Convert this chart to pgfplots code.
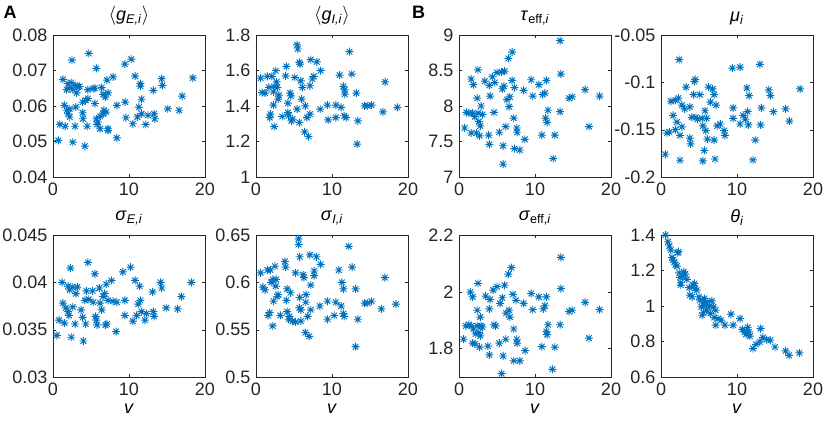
\documentclass[border=0pt,12pt]{standalone}
\usepackage{fontspec}
\setmainfont{Liberation Sans}
\usepackage{pgfplots}
\pgfplotsset{compat=1.18}

\definecolor{mblue}{RGB}{0,114,189}
\definecolor{axgray}{gray}{0.15}
\newcommand\mfont{\fontsize{13.5}{16}\selectfont}

% MATLAB-like asterisk: + and x on top of each other
\pgfdeclareplotmark{mstar}{%
  \pgfpathmoveto{\pgfqpoint{-\pgfplotmarksize}{0pt}}%
  \pgfpathlineto{\pgfqpoint{\pgfplotmarksize}{0pt}}%
  \pgfpathmoveto{\pgfqpoint{0pt}{-\pgfplotmarksize}}%
  \pgfpathlineto{\pgfqpoint{0pt}{\pgfplotmarksize}}%
  \pgfpathmoveto{\pgfqpoint{-0.707\pgfplotmarksize}{-0.707\pgfplotmarksize}}%
  \pgfpathlineto{\pgfqpoint{0.707\pgfplotmarksize}{0.707\pgfplotmarksize}}%
  \pgfpathmoveto{\pgfqpoint{-0.707\pgfplotmarksize}{0.707\pgfplotmarksize}}%
  \pgfpathlineto{\pgfqpoint{0.707\pgfplotmarksize}{-0.707\pgfplotmarksize}}%
  \pgfusepathqstroke}

\pgfplotsset{
  panel/.style={
    scale only axis, width=114pt, height=106.5pt, anchor=south west,
    xmin=0, xmax=20, xtick={0,10,20},
    tick align=inside, major tick length=2.5pt,
    axis line style={axgray}, tick style={axgray},
    every tick label/.append style={text=axgray, font=\mfont},
    scaled y ticks=false,
    yticklabel style={/pgf/number format/fixed, /pgf/number format/precision=3},
    /pgf/number format/assume math mode=true,
    title style={yshift=-3pt, text=black, font=\mfont},
    xlabel style={font=\mfont, yshift=2pt},
  },
  pts/.style={only marks, mark=mstar, mark size=3pt, color=mblue, line width=0.7pt},
}

\begin{document}
\begin{tikzpicture}[font=\mfont]
\path[use as bounding box] (0,0) rectangle (623.25pt,316.5pt);

\node[font=\mfont\bfseries] at (7.5pt,307.5pt) {A};
\node[font=\mfont\bfseries] at (314pt,307.5pt) {B};

% --- top row ---
\begin{axis}[panel, at={(39.75pt,183.75pt)},
  ymin=0.04, ymax=0.08, ytick={0.04,0.05,...,0.08},
  title={$\langle$\textit{g}\textsubscript{\textit{E,i}}$\rangle$}]
\addplot[pts] coordinates {
(0.7,0.0503) (0.9,0.0548) (1.6,0.0543) (1.3,0.0675) (1.5,0.0602) (1.8,0.0588)
(2.0,0.0578) (2.2,0.0569) (2.4,0.0666) (2.5,0.0729) (2.6,0.0646) (2.9,0.0658)
(2.6,0.0498) (2.9,0.0543) (3.0,0.0597) (3.3,0.0654) (3.1,0.0637) (2.2,0.0652)
(2.0,0.0663) (3.5,0.0655) (3.9,0.0581) (3.96,0.0564) (4.2,0.0487) (4.5,0.0543)
(4.3,0.0616) (4.6,0.0621) (4.7,0.0748) (4.6,0.0646) (5.3,0.0649) (5.5,0.0607)
(5.7,0.0706) (5.7,0.0564) (5.9,0.0555) (5.8,0.0548) (6.2,0.0536) (6.4,0.0652)
(6.6,0.0633) (6.7,0.0588) (6.9,0.0625) (7.0,0.0583) (7.1,0.0673) (7.25,0.0637)
(7.25,0.0536) (7.25,0.0531) (7.9,0.0682) (8.4,0.0602) (8.4,0.0510) (9.45,0.0718)
(9.5,0.0611) (9.6,0.0567) (10.3,0.0732) (10.5,0.0550) (10.8,0.0684) (11.1,0.0569)
(11.3,0.0597) (11.5,0.0663) (11.5,0.0656) (11.65,0.0619) (11.65,0.0578) (12.2,0.0548)
(12.5,0.0574) (13.2,0.0644) (13.3,0.0578) (13.4,0.0564) (14.3,0.0677) (14.4,0.0658)
(15.1,0.0592) (16.6,0.0588) (17.0,0.0628) (18.4,0.0679) (3.9,0.0611) (1.8,0.0646)
(2.2,0.0592) (6.2,0.0571) (6.6,0.0578) (5.5,0.0650)
};
\end{axis}

\begin{axis}[panel, at={(192pt,183.75pt)},
  ymin=1, ymax=1.8, ytick={1,1.2,...,1.8},
  title={$\langle$\textit{g}\textsubscript{\textit{I,i}}$\rangle$}]
\addplot[pts] coordinates {
(0.6,1.557) (0.8,1.476) (1.2,1.473) (1.5,1.567) (1.7,1.505) (1.8,1.335)
(1.9,1.354) (2.1,1.567) (2.3,1.480) (2.3,1.405) (2.4,1.510) (2.6,1.599)
(2.7,1.536) (2.8,1.505) (2.4,1.284) (2.9,1.439) (3.0,1.461) (3.45,1.341)
(3.9,1.570) (4.0,1.623) (4.2,1.416) (4.2,1.363) (4.3,1.345) (4.5,1.473)
(4.6,1.457) (4.65,1.316) (4.8,1.326) (5.1,1.561) (5.4,1.744) (5.5,1.721)
(5.7,1.646) (5.8,1.636) (5.4,1.382) (5.7,1.307) (5.9,1.542) (6.0,1.439)
(6.1,1.505) (6.4,1.254) (6.5,1.401) (6.7,1.335) (6.9,1.228) (7.1,1.514)
(7.2,1.661) (7.1,1.354) (7.4,1.552) (7.6,1.567) (8.0,1.649) (8.5,1.599)
(8.45,1.382) (9.4,1.405) (9.5,1.322) (10.5,1.405) (10.5,1.335) (11.0,1.574)
(11.2,1.392) (11.5,1.510) (11.65,1.491) (11.7,1.467) (11.6,1.345) (11.85,1.335)
(12.3,1.706) (12.6,1.580) (13.2,1.473) (13.4,1.316) (13.3,1.185) (14.3,1.401)
(14.7,1.401) (15.2,1.405) (16.7,1.367) (17.0,1.536) (18.6,1.392)
};
\end{axis}

\begin{axis}[panel, at={(344.25pt,183.75pt)},
  ymin=7, ymax=9, ytick={7,7.5,...,9},
  title={\textit{τ}\textsubscript{eff,\textit{i}}}]
\addplot[pts] coordinates {
(0.75,7.69) (0.97,7.91) (1.3,7.90) (1.6,8.38) (1.8,7.90) (1.6,7.62)
(1.9,8.30) (2.1,7.85) (2.3,7.62) (2.5,8.51) (2.4,8.11) (2.5,7.90)
(2.6,7.78) (2.7,7.58) (2.8,7.72) (2.9,8.00) (3.1,7.88) (3.4,8.35)
(3.9,7.59) (4.0,7.46) (4.1,8.14) (4.0,8.29) (4.4,8.41) (4.6,7.91)
(4.7,8.33) (5.0,8.47) (5.3,7.63) (5.6,8.48) (5.7,8.24) (5.8,7.18)
(5.8,7.44) (6.0,8.49) (5.9,8.28) (6.15,7.71) (6.3,8.09) (6.5,8.67)
(6.6,7.99) (6.7,8.13) (7.0,8.76) (7.0,8.36) (7.2,7.83) (7.3,8.26)
(7.3,7.40) (7.6,7.69) (7.65,7.63) (8.0,7.38) (8.5,8.22) (8.65,7.53)
(9.5,8.37) (9.7,8.14) (10.5,8.30) (10.9,7.59) (11.0,8.16) (11.3,8.18)
(11.5,8.36) (11.4,7.83) (11.6,7.77) (11.7,7.94) (12.4,7.26) (12.6,7.59)
(13.3,8.92) (13.4,8.45) (13.3,7.92) (14.5,8.11) (14.9,8.13) (16.6,8.23)
(17.1,7.71) (18.5,8.14)
};
\end{axis}

\begin{axis}[panel, at={(495.75pt,183.75pt)},
  ymin=-0.2, ymax=-0.05, ytick={-0.2,-0.15,-0.1,-0.05},
  title={\textit{μ}\textsubscript{\textit{i}}}]
\addplot[pts] coordinates {
(0.57,-0.176) (0.79,-0.1536) (1.1,-0.1525) (1.3,-0.120) (1.6,-0.135) (1.9,-0.119)
(1.9,-0.150) (2.1,-0.142) (2.3,-0.1166) (2.4,-0.076) (2.5,-0.156) (2.5,-0.1823)
(2.75,-0.124) (2.75,-0.147) (3.1,-0.128) (3.3,-0.105) (3.8,-0.126) (3.8,-0.159)
(3.9,-0.165) (4.05,-0.137) (4.3,-0.113) (4.4,-0.099) (4.5,-0.097) (4.6,-0.137)
(4.8,-0.139) (5.1,-0.113) (5.4,-0.138) (5.5,-0.146) (5.5,-0.183) (5.7,-0.172)
(5.8,-0.130) (5.9,-0.151) (6.0,-0.138) (6.1,-0.160) (6.25,-0.105) (6.5,-0.121)
(6.8,-0.107) (7.0,-0.113) (7.0,-0.161) (7.1,-0.181) (7.25,-0.124) (7.4,-0.146)
(7.8,-0.144) (8.3,-0.151) (8.4,-0.156) (9.4,-0.085) (9.5,-0.127) (9.5,-0.138)
(10.4,-0.084) (10.4,-0.144) (10.8,-0.135) (11.1,-0.139) (11.3,-0.106) (11.4,-0.131)
(11.5,-0.145) (11.6,-0.114) (12.1,-0.182) (12.4,-0.161) (13.0,-0.081) (13.2,-0.127)
(13.1,-0.145) (14.2,-0.108) (14.4,-0.114) (14.8,-0.131) (16.4,-0.128) (16.9,-0.141)
(18.3,-0.107)
};
\end{axis}

% --- bottom row ---
\begin{axis}[panel, at={(39.75pt,33.75pt)},
  ymin=0.03, ymax=0.045, ytick={0.03,0.035,0.04,0.045},
  xlabel={\textit{v}},
  title={\textit{σ}\textsubscript{\textit{E,i}}}]
\addplot[pts] coordinates {
(0.5,0.0344) (0.8,0.0360) (1.2,0.0400) (1.3,0.0378) (1.5,0.0357) (1.7,0.0373)
(2.0,0.0396) (2.0,0.0369) (2.1,0.0365) (2.2,0.0392) (2.3,0.0415) (2.4,0.0342)
(2.6,0.0374) (2.6,0.0395) (2.9,0.0356) (3.0,0.0388) (3.2,0.0395) (3.7,0.0371)
(3.9,0.0363) (4.0,0.0338) (4.2,0.0381) (4.3,0.0356) (4.4,0.0391) (4.6,0.0421)
(4.7,0.0382) (5.2,0.0391) (5.3,0.0379) (5.5,0.0409) (5.6,0.0364) (5.7,0.0360)
(5.8,0.0355) (6.1,0.0394) (6.2,0.0378) (6.4,0.0371) (6.6,0.0385) (6.8,0.0388)
(6.9,0.0355) (7.0,0.0398) (7.1,0.0356) (7.25,0.0381) (7.7,0.0402) (7.9,0.0380)
(8.3,0.0348) (8.4,0.0379) (9.2,0.0411) (9.45,0.0381) (9.45,0.0365) (10.2,0.0416)
(10.5,0.0359) (10.8,0.0402) (11.0,0.0365) (11.2,0.0377) (11.4,0.0396) (11.5,0.0381)
(11.65,0.0369) (12.1,0.0360) (12.3,0.0367) (13.1,0.0390) (13.2,0.0369) (13.3,0.0364)
(14.15,0.0400) (14.3,0.0394) (14.9,0.0373) (16.4,0.0372) (16.9,0.0385) (18.2,0.0400)
};
\end{axis}

\begin{axis}[panel, at={(192pt,33.75pt)},
  ymin=0.5, ymax=0.65, ytick={0.5,0.55,0.6,0.65},
  xlabel={\textit{v}},
  title={\textit{σ}\textsubscript{\textit{I,i}}}]
\addplot[pts] coordinates {
(0.6,0.610) (0.9,0.595) (1.2,0.592) (1.5,0.613) (1.6,0.565) (1.8,0.568)
(1.9,0.613) (2.0,0.600) (2.2,0.603) (2.2,0.554) (2.3,0.580) (2.5,0.617)
(2.6,0.596) (2.65,0.603) (2.8,0.585) (2.9,0.587) (3.2,0.565) (3.8,0.622)
(3.9,0.616) (4.0,0.581) (4.1,0.569) (4.1,0.593) (4.3,0.561) (4.4,0.564)
(4.55,0.589) (4.8,0.559) (5.2,0.558) (5.2,0.610) (5.6,0.646) (5.6,0.640)
(5.7,0.573) (5.75,0.627) (5.75,0.584) (5.9,0.571) (5.9,0.559) (6.2,0.608)
(6.3,0.605) (6.5,0.547) (6.55,0.579) (6.6,0.587) (6.8,0.564) (7.0,0.543)
(7.1,0.629) (7.2,0.597) (7.2,0.571) (7.65,0.607) (7.65,0.612) (7.95,0.627)
(8.4,0.575) (8.5,0.619) (9.4,0.580) (9.4,0.561) (10.3,0.565) (10.5,0.579)
(10.9,0.613) (11.2,0.575) (11.3,0.600) (11.5,0.593) (11.5,0.567) (11.6,0.564)
(12.2,0.638) (12.65,0.616) (13.1,0.593) (13.4,0.561) (13.1,0.532) (14.3,0.578)
(14.7,0.578) (15.2,0.580) (16.5,0.572) (16.95,0.605) (18.4,0.577)
};
\end{axis}

\begin{axis}[panel, at={(344.25pt,33.75pt)},
  ymin=1.7, ymax=2.2, ytick={1.8,2,2.2},
  xlabel={\textit{v}},
  title={\textit{σ}\textsubscript{eff,\textit{i}}}]
\addplot[pts] coordinates {
(0.6,1.833) (0.9,1.880) (1.3,1.884) (1.5,1.999) (1.6,1.880) (1.8,1.982)
(1.8,1.819) (1.9,1.869) (2.1,1.817) (2.2,1.852) (2.4,1.935) (2.5,2.030)
(2.4,1.880) (2.6,1.857) (2.7,1.805) (2.8,1.845) (2.8,1.911) (2.9,1.880)
(3.1,1.876) (3.5,1.985) (3.8,1.809) (4.0,1.778) (4.0,1.940) (4.1,1.973)
(4.5,2.006) (4.6,1.884) (4.8,1.880) (5.0,2.018) (5.3,1.819) (5.4,1.959)
(5.6,1.712) (5.7,1.979) (5.8,1.774) (6.0,2.023) (6.15,1.833) (6.2,1.925)
(6.5,2.062) (6.6,1.935) (6.7,1.911) (6.9,2.085) (7.1,1.991) (7.2,1.869)
(7.2,1.757) (7.5,1.970) (7.6,1.833) (7.65,1.819) (8.0,1.757) (8.5,1.959)
(8.7,1.793) (9.5,1.994) (9.7,1.937) (10.5,1.982) (10.9,1.807) (11.1,1.940)
(11.3,1.951) (11.5,1.982) (11.5,1.860) (11.6,1.849) (11.7,1.884) (12.3,1.727)
(12.6,1.805) (13.4,2.121) (13.4,2.011) (13.3,1.884) (14.5,1.931) (14.9,1.935)
(16.6,1.963) (17.1,1.837) (18.5,1.937)
};
\end{axis}

\begin{axis}[panel, at={(495.75pt,33.75pt)},
  ymin=0.6, ymax=1.4, ytick={0.6,0.8,...,1.4},
  xlabel={\textit{v}},
  title={\textit{θ}\textsubscript{\textit{i}}}]
\addplot[pts] coordinates {
(0.6,1.400) (0.9,1.362) (1.1,1.338) (1.3,1.315) (1.45,1.274) (1.6,1.259)
(1.76,1.249) (1.9,1.231) (2.1,1.225) (2.2,1.300) (2.3,1.306) (2.4,1.187)
(2.5,1.161) (2.6,1.131) (2.6,1.118) (2.8,1.168) (3.0,1.193) (3.2,1.180)
(3.4,1.150) (3.7,1.104) (3.8,1.061) (4.1,1.052) (4.2,1.118) (4.4,1.127)
(4.5,1.099) (4.7,1.089) (5.0,1.052) (5.1,1.033) (5.3,0.995) (5.4,0.948)
(5.6,0.962) (5.6,1.018) (5.7,1.042) (5.9,1.005) (6.0,0.976) (6.15,1.024)
(6.4,0.999) (6.5,0.958) (6.7,1.029) (6.9,0.995) (7.0,0.935) (7.2,0.976)
(7.2,0.892) (7.5,0.929) (7.9,0.920) (8.4,0.892) (9.2,0.954) (9.5,0.892)
(10.4,0.929) (10.7,0.868) (11.0,0.854) (11.2,0.841) (11.4,0.879) (11.55,0.854)
(11.7,0.830) (12.1,0.760) (12.5,0.784) (13.0,0.798) (13.1,0.873) (13.4,0.823)
(13.9,0.811) (14.4,0.807) (15.0,0.769) (16.4,0.747) (16.85,0.722) (18.2,0.736)
};
\end{axis}
\end{tikzpicture}
\end{document}
